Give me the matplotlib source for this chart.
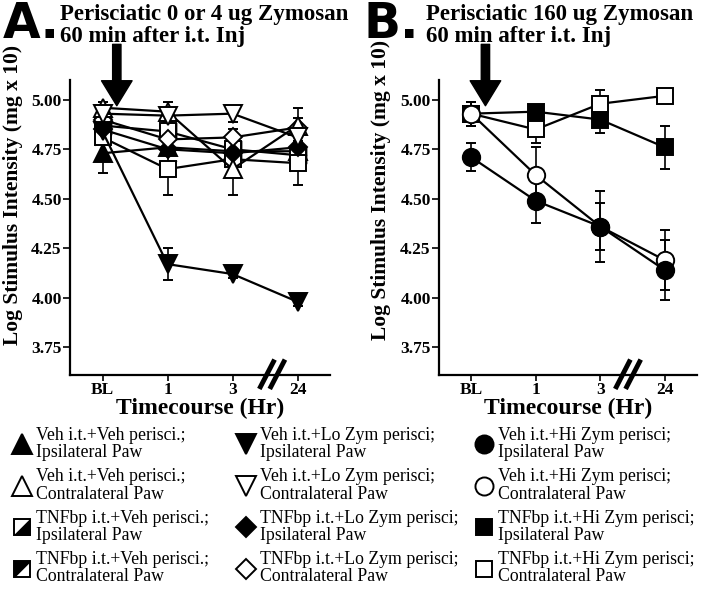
import numpy as np
import matplotlib.pyplot as plt
from matplotlib.lines import Line2D
from matplotlib.legend_handler import HandlerTuple

plt.rcParams['font.family'] = ['Liberation Serif', 'DejaVu Serif']

# data
timepoints = ['BL', '1', '3', '24']
xpos = np.arange(len(timepoints))

# Panel A: perisciatic 0 or 4 ug zymosan
veh_veh_ipsi = [4.73, 4.76, 4.74, 4.74]
veh_veh_ipsi_err = [0.10, 0.03, 0.03, 0.03]
veh_veh_contra = [4.96, 4.94, 4.65, 4.87]
veh_veh_contra_err = [0.03, 0.05, 0.13, 0.04]
tnf_veh_ipsi = [4.87, 4.84, 4.75, 4.72]
tnf_veh_ipsi_err = [0.03, 0.03, 0.03, 0.03]
tnf_veh_contra = [4.81, 4.65, 4.70, 4.68]
tnf_veh_contra_err = [0.03, 0.13, 0.04, 0.11]
veh_lo_ipsi = [4.84, 4.17, 4.12, 3.98]
veh_lo_ipsi_err = [0.03, 0.08, 0.02, 0.02]
veh_lo_contra = [4.93, 4.92, 4.93, 4.81]
veh_lo_contra_err = [0.03, 0.03, 0.04, 0.06]
tnf_lo_ipsi = [4.85, 4.75, 4.73, 4.76]
tnf_lo_ipsi_err = [0.03, 0.03, 0.03, 0.03]
tnf_lo_contra = [4.90, 4.80, 4.81, 4.86]
tnf_lo_contra_err = [0.03, 0.03, 0.04, 0.10]

# Panel B: perisciatic 160 ug zymosan
veh_hi_ipsi = [4.71, 4.49, 4.36, 4.14]
veh_hi_ipsi_err = [0.07, 0.11, 0.18, 0.15]
veh_hi_contra = [4.93, 4.62, 4.36, 4.19]
veh_hi_contra_err = [0.06, 0.14, 0.12, 0.15]
tnf_hi_ipsi = [4.93, 4.94, 4.90, 4.76]
tnf_hi_ipsi_err = [0.06, 0.03, 0.07, 0.11]
tnf_hi_contra = [4.93, 4.85, 4.98, 5.02]
tnf_hi_contra_err = [0.06, 0.07, 0.07, 0.02]

yticks = [3.75, 4.00, 4.25, 4.50, 4.75, 5.00]

# half-filled square overlays
tri_lr = [(-1, -1), (1, -1), (1, 1), (-1, -1)]   # black lower-right (ipsilateral)
tri_ul = [(-1, -1), (-1, 1), (1, 1), (-1, -1)]   # black upper-left (contralateral)

MS = 13


def series(ax, y, err, marker, face, ms=MS, overlay=None):
    ax.errorbar(xpos, y, yerr=err, color='k', lw=1.6, marker=marker, ms=ms,
                mfc=face, mec='k', mew=1.4, capsize=3.5, elinewidth=1.2,
                capthick=1.2, clip_on=False)
    if overlay is not None:
        ax.plot(xpos, y, ls='none', marker=overlay, ms=ms, mfc='k', mec='k',
                mew=0.8, clip_on=False)


def style_axes(ax, xbreak):
    ax.set_xlim(-0.5, 3.5)
    ax.set_ylim(3.61, 5.10)
    ax.set_xticks(xpos)
    ax.set_xticklabels(timepoints, fontsize=12.5, fontweight='bold')
    ax.set_yticks(yticks)
    ax.set_yticklabels(['%.2f' % v for v in yticks], fontsize=12.5, fontweight='bold')
    for s in ['top', 'right']:
        ax.spines[s].set_visible(False)
    for s in ['left', 'bottom']:
        ax.spines[s].set_linewidth(1.6)
    ax.tick_params(axis='y', length=5, width=1.2, pad=1)
    ax.tick_params(axis='x', length=4, width=1.2, pad=1)
    ax.set_xlabel('Timecourse (Hr)', fontsize=17, fontweight='bold', labelpad=0)
    tr = ax.get_xaxis_transform()
    for dx in (-0.07, 0.09):
        ax.plot([xbreak + dx - 0.1, xbreak + dx + 0.1], [-0.04, 0.045],
                transform=tr, color='k', lw=3.5, clip_on=False)
    ax.annotate('', xy=(0.22, 4.97), xytext=(0.22, 5.28),
                arrowprops=dict(arrowstyle='simple,head_length=0.9,head_width=1.1,tail_width=0.3',
                                fc='k', ec='k', mutation_scale=20, shrinkA=0, shrinkB=0),
                annotation_clip=False)


fig = plt.figure(figsize=(7.02, 5.90), dpi=100)
axA = fig.add_axes([70 / 702, 1 - 375 / 590, 260 / 702, 295 / 590])
axB = fig.add_axes([439 / 702, 1 - 375 / 590, 258 / 702, 295 / 590])

# panel A
series(axA, veh_veh_ipsi, veh_veh_ipsi_err, '^', 'k')
series(axA, tnf_veh_ipsi, tnf_veh_ipsi_err, 's', 'w', ms=12, overlay=tri_lr)
series(axA, tnf_veh_contra, tnf_veh_contra_err, 's', 'w', ms=12, overlay=tri_ul)
series(axA, tnf_lo_ipsi, tnf_lo_ipsi_err, 'D', 'k', ms=9.5)
series(axA, tnf_lo_contra, tnf_lo_contra_err, 'D', 'w', ms=9.5)
series(axA, veh_veh_contra, veh_veh_contra_err, '^', 'w')
series(axA, veh_lo_contra, veh_lo_contra_err, 'v', 'w')
series(axA, veh_lo_ipsi, veh_lo_ipsi_err, 'v', 'k')
style_axes(axA, 2.6)

# panel B
series(axB, tnf_hi_contra, tnf_hi_contra_err, 's', 'w', ms=11.5)
series(axB, tnf_hi_ipsi, tnf_hi_ipsi_err, 's', 'k', ms=11.5)
series(axB, veh_hi_contra, veh_hi_contra_err, 'o', 'w', ms=12.5)
series(axB, veh_hi_ipsi, veh_hi_ipsi_err, 'o', 'k', ms=12.5)
style_axes(axB, 2.42)

ylab = 'Log Stimulus Intensity (mg x 10)'
fig.text(13 / 702, 1 - 195 / 590, ylab, rotation=90, ha='center', va='center',
         fontsize=15.5, fontweight='bold')
fig.text(381 / 702, 1 - 190 / 590, ylab, rotation=90, ha='center', va='center',
         fontsize=15.5, fontweight='bold')

fig.text(3 / 702, 1 - 38 / 590, 'A.', family='DejaVu Sans', fontsize=35,
         fontweight='bold', va='baseline')
fig.text(364 / 702, 1 - 38 / 590, 'B.', family='DejaVu Sans', fontsize=35,
         fontweight='bold', va='baseline')
fig.text(60 / 702, 1 - 4 / 590, 'Perisciatic 0 or 4 ug Zymosan\n60 min after i.t. Inj',
         fontsize=16.5, fontweight='bold', va='top', linespacing=1.08)
fig.text(426 / 702, 1 - 4 / 590, 'Perisciatic 160 ug Zymosan\n60 min after i.t. Inj',
         fontsize=16.5, fontweight='bold', va='top', linespacing=1.08)


# legends
def h(marker, face, ms=MS):
    return Line2D([], [], ls='none', marker=marker, ms=ms, mfc=face, mec='k', mew=1.4)


def hsq(tri):
    return (h('s', 'w', 11), Line2D([], [], ls='none', marker=tri, ms=11, mfc='k', mec='k', mew=0.8))


col1 = [h('^', 'k', 15), h('^', 'w', 15), hsq(tri_lr), hsq(tri_ul)]
col1_labels = ['Veh i.t.+Veh perisci.;\nIpsilateral Paw',
               'Veh i.t.+Veh perisci.;\nContralateral Paw',
               'TNFbp i.t.+Veh perisci.;\nIpsilateral Paw',
               'TNFbp i.t.+Veh perisci.;\nContralateral Paw']
col2 = [h('v', 'k', 15), h('v', 'w', 15), h('D', 'k', 10.5), h('D', 'w', 10.5)]
col2_labels = ['Veh i.t.+Lo Zym perisci;\nIpsilateral Paw',
               'Veh i.t.+Lo Zym perisci;\nContralateral Paw',
               'TNFbp i.t.+Lo Zym perisci;\nIpsilateral Paw',
               'TNFbp i.t.+Lo Zym perisci;\nContralateral Paw']
col3 = [h('o', 'k', 13), h('o', 'w', 13), h('s', 'k', 12), h('s', 'w', 12)]
col3_labels = ['Veh i.t.+Hi Zym perisci;\nIpsilateral Paw',
               'Veh i.t.+Hi Zym perisci;\nContralateral Paw',
               'TNFbp i.t.+Hi Zym perisci;\nIpsilateral Paw',
               'TNFbp i.t.+Hi Zym perisci;\nContralateral Paw']

for handles, labels, x0 in [(col1, col1_labels, 10), (col2, col2_labels, 234), (col3, col3_labels, 472)]:
    leg = fig.legend(handles, labels, loc='upper left', bbox_to_anchor=(x0 / 702, 1 - 427 / 590),
                     frameon=False, borderpad=0, borderaxespad=0, handlelength=1.3,
                     handletextpad=0.15, labelspacing=0.4, fontsize=12.8,
                     handler_map={tuple: HandlerTuple(ndivide=1, pad=0)})
    for t in leg.get_texts():
        t.set_linespacing(1.02)

fig.savefig('out.png', dpi=100)
